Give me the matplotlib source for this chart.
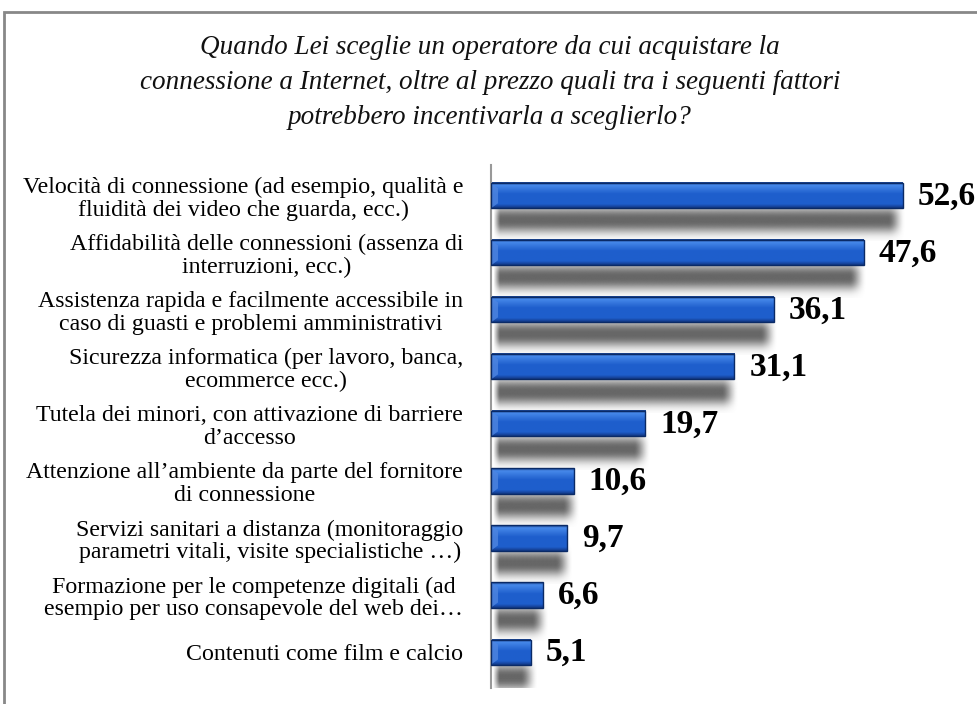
import numpy as np
import matplotlib
matplotlib.use("Agg")
import matplotlib.pyplot as plt
from matplotlib.patches import Rectangle, Polygon

categories = [
    "Velocità di connessione (ad esempio, qualità e\nfluidità dei video che guarda, ecc.)",
    "Affidabilità delle connessioni (assenza di\ninterruzioni, ecc.)",
    "Assistenza rapida e facilmente accessibile in\ncaso di guasti e problemi amministrativi",
    "Sicurezza informatica (per lavoro, banca,\necommerce ecc.)",
    "Tutela dei minori, con attivazione di barriere\nd\u2019accesso",
    "Attenzione all\u2019ambiente da parte del fornitore\ndi connessione",
    "Servizi sanitari a distanza (monitoraggio\nparametri vitali, visite specialistiche \u2026)",
    "Formazione per le competenze digitali (ad\nesempio per uso consapevole del web dei\u2026",
    "Contenuti come film e calcio",
]
values = [52.6, 47.6, 36.1, 31.1, 19.7, 10.6, 9.7, 6.6, 5.1]
value_labels = ["52,6", "47,6", "36,1", "31,1", "19,7", "10,6", "9,7", "6,6", "5,1"]
title = ("Quando Lei sceglie un operatore da cui acquistare la\n"
         "connessione a Internet, oltre al prezzo quali tra i seguenti fattori\n"
         "potrebbero incentivarla a sceglierlo?")

serif = ["Liberation Serif", "DejaVu Serif"]

fig = plt.figure(figsize=(9.78, 7.04), dpi=100)
fig.patch.set_facecolor("white")

# outer frame (cropped at right/bottom)
fig.add_artist(Rectangle((4 / 978, -0.1), 1.2, 1 - 12 / 704 + 0.1,
                         transform=fig.transFigure, fill=False,
                         edgecolor="#888888", linewidth=2))

fig.text(490 / 978, 1 - 35 / 704, title, ha="center", va="top",
         fontsize=19.5, style="italic", family=serif, linespacing=1.52,
         color="#111111")

ax = fig.add_axes([491 / 978, 16 / 704, 1 - 491 / 978, (688 - 165) / 704])
ax.set_xlim(0, 62.2)
ax.set_ylim(8.63, -0.54)

h = 0.44
sh_off = 0.44

# gradient for bar body
ny = 64
t = np.linspace(0, 1, ny)
top = np.array([0.08, 0.22, 0.50])
mid = np.array([0.12, 0.37, 0.80])
light = np.array([0.28, 0.54, 0.92])
bot = np.array([0.07, 0.22, 0.52])
cols = np.zeros((ny, 1, 3))
for k, tt in enumerate(t):
    if tt < 0.10:
        c = top + (light - top) * (tt / 0.10)
    elif tt < 0.45:
        c = light + (mid - light) * ((tt - 0.10) / 0.35)
    elif tt < 0.85:
        c = mid
    else:
        c = mid + (bot - mid) * ((tt - 0.85) / 0.15)
    cols[k, 0, :] = c

for i, (v, lab) in enumerate(zip(values, value_labels)):
    # blurred shadow
    nx_s, ny_s = 300, 80
    x0 = 0.2
    ext_len = v * 0.99 + 0.8
    xs = np.linspace(x0, ext_len, nx_s)
    ys = np.linspace(-1, 1, ny_s)
    px = np.clip((ext_len - xs) / 2.2, 0, 1)
    px = px * px * (3 - 2 * px)
    pl = np.clip((xs - x0) / 0.8, 0, 1)
    px = px * pl
    py = np.exp(-(np.abs(ys) / 0.6) ** 2.5)
    alpha = np.outer(py, px)
    rgba = np.zeros((ny_s, nx_s, 4))
    rgba[..., :3] = 0.40
    rgba[..., 3] = alpha
    yc = i + sh_off
    ax.imshow(rgba, extent=[x0, ext_len, yc + 0.36, yc - 0.36],
              aspect="auto", interpolation="bilinear", zorder=1)
    # bar
    ax.imshow(cols, extent=[0, v, i + h / 2, i - h / 2], aspect="auto",
              interpolation="bilinear", zorder=2)
    # bevel on left end
    bw = min(0.9, v * 0.2)
    ax.add_patch(Polygon([(0, i - h / 2), (bw, i - h / 2 + 0.09), (bw, i + h / 2 - 0.09),
                          (0, i + h / 2)], closed=True, facecolor="#4f86e0",
                         edgecolor="none", alpha=0.8, zorder=2.5))
    ax.add_patch(Rectangle((0, i - h / 2), v, h, fill=False,
                           edgecolor="#0a2a66", linewidth=1.0, zorder=3))
    ax.text(v + 1.9, i, lab, ha="left", va="center", fontsize=24,
            fontweight="bold", family=serif, color="black", zorder=4)

ax.set_xlim(0, 62.2)
ax.set_ylim(8.63, -0.54)
ax.set_yticks(range(len(categories)))
ax.set_yticklabels(categories, family=serif, fontsize=17.2,
                   multialignment="center", linespacing=1.08)
ax.tick_params(axis="y", length=0, pad=20)
ax.set_xticks([])
for s in ["top", "right", "bottom"]:
    ax.spines[s].set_visible(False)
ax.spines["left"].set_color("#999999")
ax.spines["left"].set_linewidth(1.5)
ax.patch.set_alpha(0)

fig.savefig("out.png", dpi=100, facecolor="white")
